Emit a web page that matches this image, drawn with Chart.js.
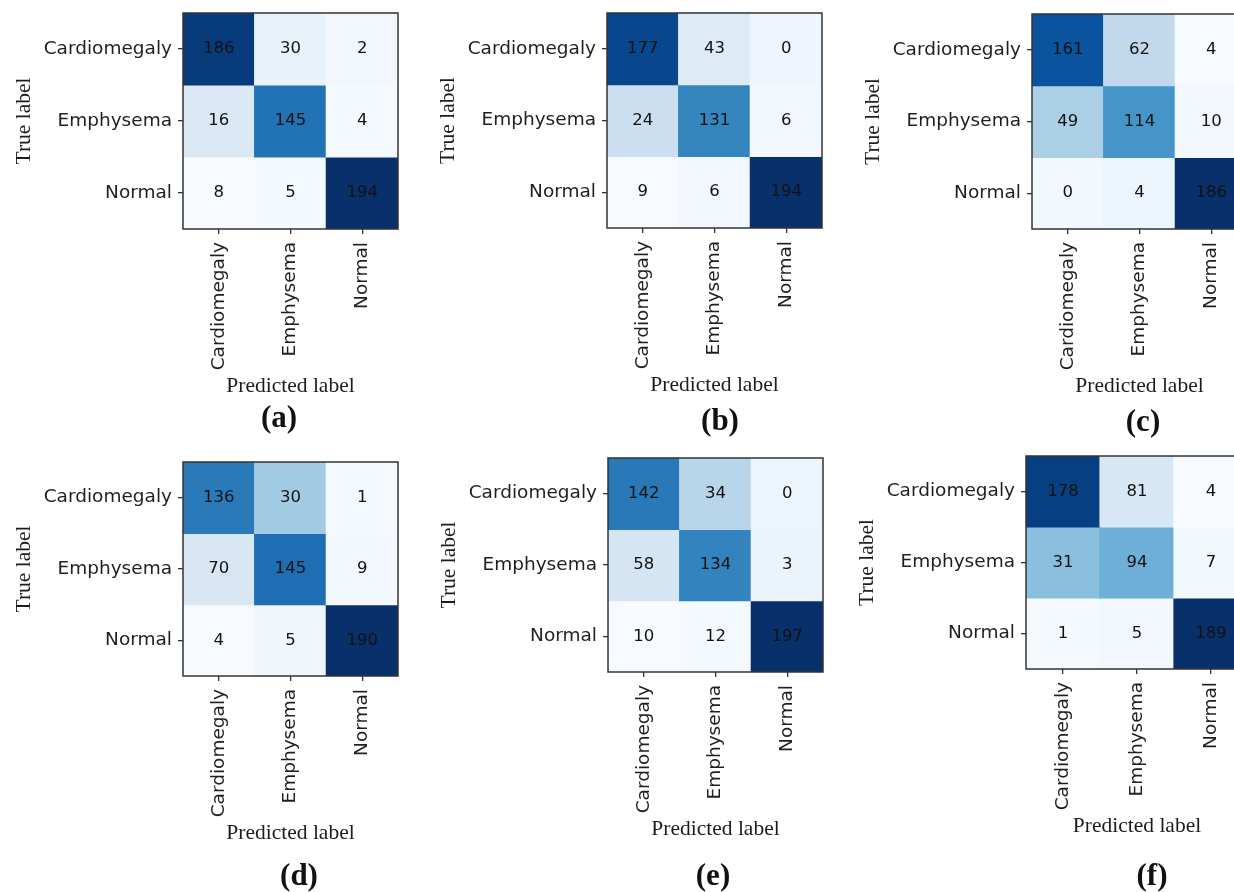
<!DOCTYPE html>
<html lang="en">
<head>
<meta charset="UTF-8" />
<title>Confusion matrices</title>
<script src="https://cdn.jsdelivr.net/npm/chart.js"></script>
<style>
  html, body { margin: 0; padding: 0; background: #fff; overflow: hidden; }
  body { width: 1234px; height: 892px; position: relative; }
  canvas { position: absolute; }
</style>
</head>
<body>
<canvas id="cm_a" width="440" height="446" style="left:0px;top:0px"></canvas>
<canvas id="cm_b" width="440" height="446" style="left:411px;top:0px"></canvas>
<canvas id="cm_c" width="440" height="446" style="left:822px;top:0px"></canvas>
<canvas id="cm_d" width="440" height="446" style="left:0px;top:446px"></canvas>
<canvas id="cm_e" width="440" height="446" style="left:411px;top:446px"></canvas>
<canvas id="cm_f" width="440" height="446" style="left:822px;top:446px"></canvas>

<script>
    const classes = ['Cardiomegaly', 'Emphysema', 'Normal'];
    const captions = ['(a)', '(b)', '(c)', '(d)', '(e)', '(f)'];

    // rows = true label, columns = predicted label (numbers as printed in the cells)
    const cmA = [[186, 30, 2], [16, 145, 4], [8, 5, 194]];
    const cmB = [[177, 43, 0], [24, 131, 6], [9, 6, 194]];
    const cmC = [[161, 62, 4], [49, 114, 10], [0, 4, 186]];
    const cmD = [[136, 30, 1], [70, 145, 9], [4, 5, 190]];
    const cmE = [[142, 34, 0], [58, 134, 3], [10, 12, 197]];
    const cmF = [[178, 81, 4], [31, 94, 7], [1, 5, 189]];
    const matrices = [cmA, cmB, cmC, cmD, cmE, cmF];

    // page layout: canvas origin, matrix box [left, top, right, bottom], caption centre
    const panels = [
        { id: 'cm_a', left: 0,   top: 0,   box: [183, 13, 398, 229],   cap: [279, 419] },
        { id: 'cm_b', left: 411, top: 0,   box: [607, 13, 822, 228],   cap: [720, 422] },
        { id: 'cm_c', left: 822, top: 0,   box: [1032, 14, 1247, 229], cap: [1143, 423] },
        { id: 'cm_d', left: 0,   top: 446, box: [183, 462, 398, 676],  cap: [299, 877] },
        { id: 'cm_e', left: 411, top: 446, box: [608, 458, 823, 672],  cap: [713, 877] },
        { id: 'cm_f', left: 822, top: 446, box: [1026, 456, 1248, 669], cap: [1152, 877] }
    ];
    const CW = 440, CH = 446;
    const Y_AXIS_W = 180, X_AXIS_H = 190;

    // matplotlib "Blues"
    const blues = ['#f7fbff', '#deebf7', '#c6dbef', '#9ecae1', '#6baed6', '#4292c6', '#2171b5', '#08519c', '#08306b'];
    function hexRgb(h) {
        return [1, 3, 5].map(i => parseInt(h.substr(i, 2), 16));
    }
    function bluesAt(t) {
        t = Math.min(1, Math.max(0, t)) * (blues.length - 1);
        const i = Math.min(Math.floor(t), blues.length - 2);
        const f = t - i;
        const a = hexRgb(blues[i]), b = hexRgb(blues[i + 1]);
        const c = a.map((v, k) => Math.round(v + (b[k] - v) * f));
        return `rgb(${c[0]}, ${c[1]}, ${c[2]})`;
    }

    const sans = { family: '"DejaVu Sans", sans-serif', size: 18.5 };
    const serif = { family: '"Liberation Serif", "Times New Roman", serif', size: 21.5 };

    function drawMatrix(p, cm, caption) {
        const flat = cm.flat();
        const lo = Math.min(...flat), hi = Math.max(...flat);
        // in the source figure the shading follows the transposed matrix
        const shade = (r, c) => bluesAt((cm[c][r] - lo) / (hi - lo));

        const datasets = cm.map((row, r) => ({
            data: classes.map(() => [r - 0.5, r + 0.5]),
            backgroundColor: classes.map((_, c) => shade(r, c)),
            grouped: false,
            barPercentage: 1,
            categoryPercentage: 1,
            borderWidth: 0,
            inflateAmount: 0.6
        }));

        const [bl, bt, br, bb] = p.box;
        const padding = {
            left: bl - p.left - Y_AXIS_W,
            top: bt - p.top,
            right: p.left + CW - br,
            bottom: p.top + CH - bb - X_AXIS_H
        };

        const frame = {
            id: 'frame',
            afterDatasetsDraw(chart) {
                const { ctx, chartArea: a } = chart;
                ctx.save();
                ctx.strokeStyle = '#333';
                ctx.lineWidth = 1.5;
                ctx.strokeRect(a.left, a.top, a.right - a.left, a.bottom - a.top);
                ctx.restore();
            }
        };

        const cellText = {
            id: 'cellText',
            afterDatasetsDraw(chart) {
                const { ctx, scales: { x, y } } = chart;
                ctx.save();
                ctx.font = '16.5px "DejaVu Sans", sans-serif';
                ctx.fillStyle = '#121212';
                ctx.textAlign = 'center';
                ctx.textBaseline = 'middle';
                cm.forEach((row, r) => row.forEach((v, c) => {
                    ctx.fillText(String(v), x.getPixelForValue(c), y.getPixelForValue(r));
                }));
                ctx.restore();
            }
        };

        const captionText = {
            id: 'captionText',
            afterDraw(chart) {
                const ctx = chart.ctx;
                ctx.save();
                ctx.font = 'bold 31px "Liberation Serif", "Times New Roman", serif';
                ctx.fillStyle = '#111';
                ctx.textAlign = 'center';
                ctx.textBaseline = 'middle';
                ctx.fillText(caption, p.cap[0] - p.left, p.cap[1] - p.top);
                ctx.restore();
            }
        };

        new Chart(document.getElementById(p.id), {
            type: 'bar',
            data: { labels: classes, datasets: datasets },
            options: {
                responsive: false,
                animation: false,
                devicePixelRatio: 1,
                events: [],
                layout: { padding: padding },
                plugins: {
                    legend: { display: false },
                    tooltip: { enabled: false }
                },
                scales: {
                    x: {
                        type: 'category',
                        offset: true,
                        grid: {
                            drawOnChartArea: false,
                            drawTicks: true,
                            tickLength: 5,
                            offset: false,
                            color: '#333',
                            lineWidth: 1.3
                        },
                        border: { display: false },
                        ticks: {
                            font: sans,
                            color: '#1f1f1f',
                            minRotation: 90,
                            maxRotation: 90,
                            padding: 8,
                            autoSkip: false
                        },
                        title: {
                            display: true,
                            text: 'Predicted label',
                            font: serif,
                            color: '#1c1c1c',
                            padding: { top: 0, bottom: 20 }
                        },
                        afterFit(s) {
                            s.height = X_AXIS_H;
                            s.paddingLeft = 0;
                            s.paddingRight = 0;
                        }
                    },
                    y: {
                        type: 'linear',
                        min: -0.5,
                        max: 2.5,
                        reverse: true,
                        afterBuildTicks(s) {
                            s.ticks = classes.map((_, i) => ({ value: i }));
                        },
                        grid: {
                            drawOnChartArea: false,
                            drawTicks: true,
                            tickLength: 5,
                            color: '#333',
                            lineWidth: 1.3
                        },
                        border: { display: false },
                        ticks: {
                            font: sans,
                            color: '#1f1f1f',
                            padding: 6,
                            autoSkip: false,
                            callback: v => classes[v]
                        },
                        title: {
                            display: true,
                            text: 'True label',
                            font: serif,
                            color: '#1c1c1c',
                            padding: { top: 8, bottom: 0 }
                        },
                        afterFit(s) {
                            s.width = Y_AXIS_W;
                            s.paddingTop = 0;
                            s.paddingBottom = 0;
                        }
                    }
                }
            },
            plugins: [frame, cellText, captionText]
        });
    }

    panels.forEach((p, i) => drawMatrix(p, matrices[i], captions[i]));
</script>
</body>
</html>
